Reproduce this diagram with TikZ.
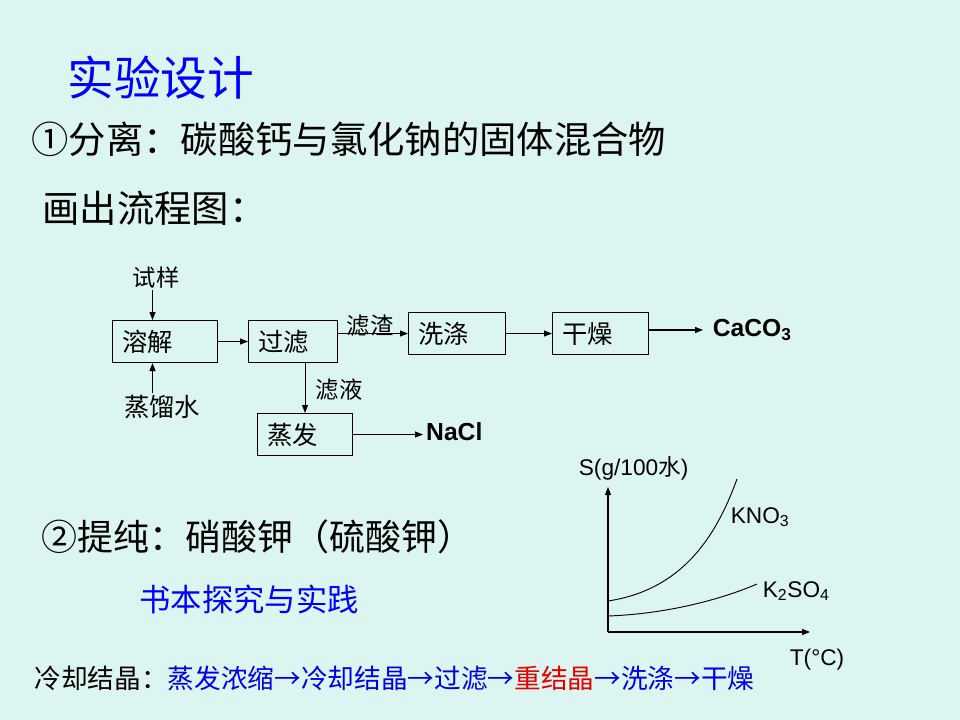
\documentclass[tikz,border=0pt]{standalone}
\usepackage{fontspec}
\setmainfont{Noto Sans CJK SC}
\newfontfamily\cjkfont{Noto Sans CJK SC}
\newfontfamily\arialfont{Liberation Sans}
\usetikzlibrary{arrows.meta}
\definecolor{bgcol}{RGB}{220,245,241}
\colorlet{titlecol}{blue}
\colorlet{stepcol}{blue!90!black}
\colorlet{hilitecol}{red!90!black}
\colorlet{linecol}{black}
\tikzset{
  box/.style={draw=linecol, line width=0.8pt, anchor=north west,
    minimum height=31.5pt, inner xsep=7.5pt, align=left,
    font=\fontsize{19}{22}\selectfont},
  lbl/.style={font=\fontsize{17.5}{20}\selectfont, inner sep=1pt},
  chem/.style={font=\arialfont\bfseries\fontsize{18.5}{22}\selectfont, inner sep=2pt},
  plotlbl/.style={font=\arialfont\fontsize{17}{20}\selectfont, inner sep=1pt},
  heading/.style={anchor=west, inner sep=0pt, font=\fontsize{28}{32}\selectfont},
}

\begin{document}
\begin{tikzpicture}[x=0.75pt, y=-0.75pt, >={Triangle[length=6pt, width=4.5pt]},
  line width=0.8pt]

  % Slide background.
  \fill[bgcol] (0,0) rectangle (960,720);

  % Title and headings.
  \node[heading, text=titlecol, font=\fontsize{35}{40}\selectfont] (title) at (67,78) {实验设计};
  \node[heading] (task1) at (31,139) {①分离：碳酸钙与氯化钠的固体混合物};
  \node[heading] (flowhead) at (42,208) {画出流程图：};

  % Flow chart boxes.
  \node[box, text width=63.75pt] (rongjie) at (112,320) {溶解};
  \node[box, text width=51.75pt] (guolv) at (248,320) {过滤};
  \node[box, text width=57.75pt] (xidi) at (408,312) {洗涤};
  \node[box, text width=57pt] (ganzao) at (552,312) {干燥};
  \node[box, text width=56.25pt] (zhengfa) at (257,413) {蒸发};

  % Inputs, labels and products.
  \node[lbl, anchor=south] (shiyang) at (156,290) {试样};
  \node[lbl, anchor=north, font=\fontsize{19}{22}\selectfont] (water) at (162,393) {蒸馏水};
  \node[lbl, anchor=south] (lvzha) at (370,338) {滤渣};
  \node[lbl, anchor=west] (lvye) at (314,390) {滤液};
  \node[chem, anchor=west] (nacl) at (423,432) {NaCl};
  \node[chem, anchor=west, inner xsep=7pt] (caco3) at (703,330) {CaCO\textsubscript{3}};

  % Connectors.
  \coordinate (inA) at ([xshift=-9.4pt]rongjie.north);
  \coordinate (inB) at ([xshift=-9.4pt]rongjie.south);
  \draw[->] (shiyang.south -| inA) -- (inA);
  \draw[->] (water.north -| inB) -- (inB);
  \draw[->] (rongjie.east) -- (guolv.west);
  \draw[->] (guolv.east |- xidi.west) -- (xidi.west);
  \draw[->] (zhengfa.north |- guolv.south) -- (zhengfa.north);
  \draw[->] (zhengfa.east) -- (zhengfa.east -| nacl.west);
  \draw[->] (xidi.east) -- (ganzao.west);
  \draw[->] (ganzao.east |- caco3.west) -- (caco3.west);

  % Purification part.
  \node[heading, font=\fontsize{27}{32}\selectfont] (task2) at (41,537) {②提纯：硝酸钾（硫酸钾）};
  \node[heading, text=titlecol, font=\fontsize{23.5}{28}\selectfont] (book) at (139,599) {书本探究与实践};

  % Solubility sketch.
  \coordinate (O) at (608,632);
  \coordinate (ytip) at (608,487);
  \coordinate (xtip) at (810,632);
  \draw[->] (O) -- (ytip);
  \draw[->] (O) -- (xtip);
  \node[plotlbl, anchor=west] (ylbl) at (577,468) {S(g/100{\cjkfont 水})};
  \node[plotlbl, anchor=west] (xlbl) at (788,660) {T(°C)};
  \draw[line width=0.7pt] (608,601) .. controls (680,590) and (715,540) .. (737,479);
  \draw[line width=0.7pt] (608,616) .. controls (665,614) and (720,600) .. (757,584);
  \node[plotlbl, anchor=west] (kno3) at (729,517) {KNO\textsubscript{3}};
  \node[plotlbl, anchor=west] (k2so4) at (761,591) {K\textsubscript{2}SO\textsubscript{4}};

  % Steps of the cooling crystallisation.
  \node[heading, font=\fontsize{20}{24}\selectfont] (steps) at (34,678)
    {冷却结晶：\textcolor{stepcol}{蒸发浓缩→冷却结晶→过滤→}\textcolor{hilitecol}{重结晶}\textcolor{stepcol}{→洗涤→干燥}};

\end{tikzpicture}
\end{document}
